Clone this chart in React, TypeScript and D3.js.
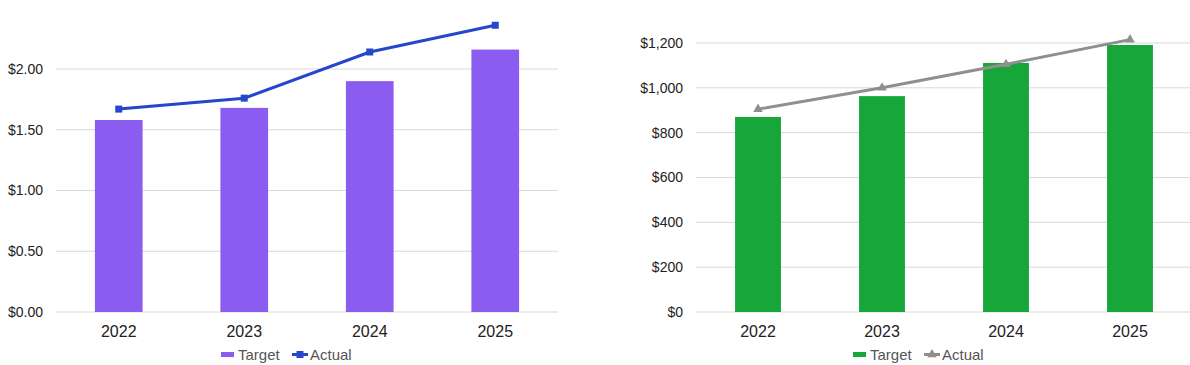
import React from 'react'
import * as d3 from 'd3'

const years = ['2022', '2023', '2024', '2025']

// left chart: price per unit
const priceTarget = [1.58, 1.68, 1.9, 2.16]
const priceActual = [1.67, 1.76, 2.14, 2.36]
const priceTicks = [0, 0.5, 1, 1.5, 2]

// right chart: revenue
const revenueTarget = [870, 963, 1111, 1191]
const revenueActual = [905, 1000, 1105, 1215]
const revenueTicks = [0, 200, 400, 600, 800, 1000, 1200]

const FONT = 'Liberation Sans, Arial, sans-serif'

type PanelProps = {
  x0: number
  x1: number
  yMax: number
  yTop: number
  ticks: number[]
  fmt: (v: number) => string
  target: number[]
  actual: number[]
  barColor: string
  lineColor: string
  marker: 'square' | 'triangle'
  barRatio: number
  legendX: number
}

function Panel(p: PanelProps) {
  const x = d3.scaleBand<string>().domain(years).range([p.x0, p.x1]).padding(0)
  const y = d3.scaleLinear().domain([0, p.yMax]).range([312, p.yTop])
  const bw = x.bandwidth() * p.barRatio
  const cx = (d: string) => (x(d) ?? 0) + x.bandwidth() / 2

  const line = d3.line<number>()
    .x((_, i) => cx(years[i]))
    .y(d => y(d))

  const tri = d3.symbol().type(d3.symbolTriangle).size(40)()

  const drawMarker = (mx: number, my: number, key: string | number) =>
    p.marker === 'square'
      ? <rect key={key} x={mx - 3.5} y={my - 3.5} width={7} height={7} fill={p.lineColor} />
      : <path key={key} d={tri ?? ''} transform={`translate(${mx},${my})`} fill={p.lineColor} />

  const lx = p.legendX
  return (
    <g fontFamily={FONT}>
      {p.ticks.map(t => (
        <g key={t}>
          <line x1={p.x0} x2={p.x1} y1={y(t)} y2={y(t)} stroke="#d9d9d9" strokeWidth={1} />
          <text x={p.x0 - 13} y={y(t)} dy="0.35em" textAnchor="end" fontSize={14} fill="#222">
            {p.fmt(t)}
          </text>
        </g>
      ))}
      {years.map((yr, i) => (
        <rect key={yr} x={cx(yr) - bw / 2} y={y(p.target[i])} width={bw}
          height={y(0) - y(p.target[i])} fill={p.barColor} />
      ))}
      <path d={line(p.actual) ?? ''} fill="none" stroke={p.lineColor} strokeWidth={3} />
      {p.actual.map((v, i) => drawMarker(cx(years[i]), y(v), i))}
      {years.map(yr => (
        <text key={yr} x={cx(yr)} y={337} textAnchor="middle" fontSize={16} fill="#222">{yr}</text>
      ))}
      {/* legend */}
      <rect x={lx} y={352} width={13} height={5} fill={p.barColor} />
      <text x={lx + 17} y={360} fontSize={15} fill="#555">Target</text>
      <line x1={lx + 71} x2={lx + 87} y1={354.5} y2={354.5} stroke={p.lineColor} strokeWidth={3} />
      {drawMarker(lx + 79, 354.5, 'lg')}
      <text x={lx + 89} y={360} fontSize={15} fill="#555">Actual</text>
    </g>
  )
}

export default function App() {
  return (
    <svg width={1190} height={365} style={{ position: 'absolute', left: 0, top: 0 }}>
      <rect width={1190} height={365} fill="#fff" />
      <Panel x0={56} x1={558} yMax={2} yTop={69} ticks={priceTicks}
        fmt={v => d3.format('$.2f')(v)} target={priceTarget} actual={priceActual}
        barColor="#8b5cf0" lineColor="#2447cc" marker="square" barRatio={0.38} legendX={221} />
      <Panel x0={696} x1={1192} yMax={1200} yTop={43} ticks={revenueTicks}
        fmt={v => d3.format('$,.0f')(v)} target={revenueTarget} actual={revenueActual}
        barColor="#17a63a" lineColor="#8f8f8f" marker="triangle" barRatio={0.37} legendX={853} />
    </svg>
  )
}
